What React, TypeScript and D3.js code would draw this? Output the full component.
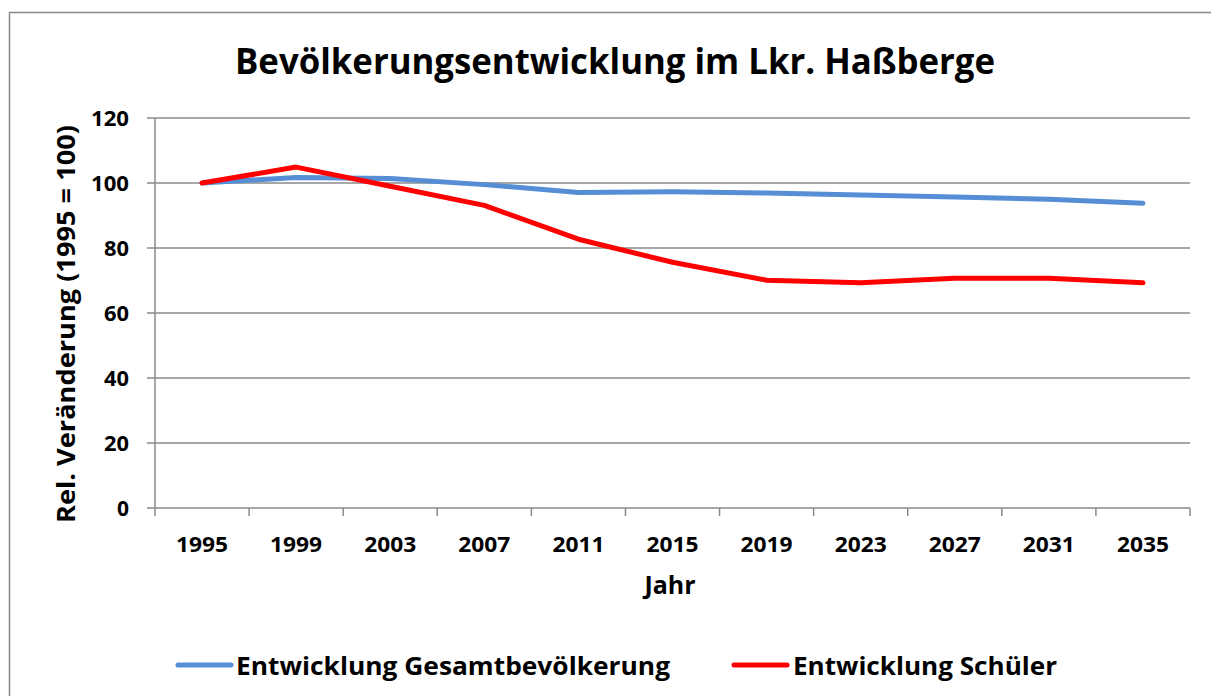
import React from "react";
import * as d3 from "d3";

const years = ["1995", "1999", "2003", "2007", "2011", "2015", "2019", "2023", "2027", "2031", "2035"];
const gesamt = [100, 101.7, 101.4, 99.5, 97.1, 97.3, 96.9, 96.3, 95.7, 95.0, 93.8];
const schueler = [100, 104.9, 99.0, 93.1, 82.7, 75.6, 70.1, 69.3, 70.7, 70.7, 69.3];
const yTicks = [0, 20, 40, 60, 80, 100, 120];

const seriesNames = ["Entwicklung Gesamtbevölkerung", "Entwicklung Schüler"];
const colors = ["#558ED5", "#FF0000"];

const FONT = "'Open Sans', 'DejaVu Sans', sans-serif";

export default function App() {
  const W = 1211, H = 696;
  const left = 155, right = 1190, top = 118, bottom = 508;
  const x = d3.scaleBand<string>().domain(years).range([left, right]).paddingInner(0).paddingOuter(0);
  const y = d3.scaleLinear().domain([0, 120]).range([bottom, top]);
  const cx = (yr: string) => (x(yr) as number) + x.bandwidth() / 2;
  const line = d3.line<number>().x((_, i) => cx(years[i])).y((v) => y(v));
  const boundaries = d3.range(years.length + 1).map((i) => left + i * x.bandwidth());

  return (
    <svg width={W} height={H} style={{ position: "absolute", left: 0, top: 0, background: "#fff" }}>
      <rect x={9.5} y={12.5} width={1300} height={800} fill="#fff" stroke="#898989" strokeWidth={1.5} />
      <text x={615} y={74} textAnchor="middle" fontFamily={FONT} fontWeight="bold" fontSize={35}
        textLength={760} lengthAdjust="spacingAndGlyphs">Bevölkerungsentwicklung im Lkr. Haßberge</text>
      {yTicks.map((t) => (
        <g key={t}>
          <line x1={147} x2={right} y1={y(t)} y2={y(t)} stroke="#8a8a8a" strokeWidth={1.5} />
          <text x={129} y={y(t) + 7.5} textAnchor="end" fontFamily={FONT} fontWeight="bold" fontSize={21}
            textLength={t === 0 ? undefined : t >= 100 ? 38 : 25} lengthAdjust="spacingAndGlyphs">{t}</text>
        </g>
      ))}
      <line x1={left} x2={left} y1={top} y2={bottom} stroke="#8a8a8a" strokeWidth={1.5} />
      {boundaries.map((bx, i) => (
        <line key={i} x1={bx} x2={bx} y1={bottom} y2={516} stroke="#8a8a8a" strokeWidth={1.5} />
      ))}
      {years.map((yr) => (
        <text key={yr} x={cx(yr)} y={552} textAnchor="middle" fontFamily={FONT} fontWeight="bold" fontSize={22}
          textLength={52} lengthAdjust="spacingAndGlyphs">{yr}</text>
      ))}
      <text x={670} y={594} textAnchor="middle" fontFamily={FONT} fontWeight="bold" fontSize={25}>Jahr</text>
      <text transform="translate(75,324) rotate(-90)" textAnchor="middle" fontFamily={FONT} fontWeight="bold" fontSize={25}
        textLength={398} lengthAdjust="spacingAndGlyphs">Rel. Veränderung (1995 = 100)</text>
      <path d={line(gesamt) || ""} fill="none" stroke={colors[0]} strokeWidth={5} strokeLinecap="round" strokeLinejoin="round" />
      <path d={line(schueler) || ""} fill="none" stroke={colors[1]} strokeWidth={5} strokeLinecap="round" strokeLinejoin="round" />
      <line x1={178} x2={231} y1={665} y2={665} stroke={colors[0]} strokeWidth={5} strokeLinecap="round" />
      <text x={236} y={675} fontFamily={FONT} fontWeight="bold" fontSize={25} textLength={434} lengthAdjust="spacingAndGlyphs">{seriesNames[0]}</text>
      <line x1={734} x2={787} y1={665} y2={665} stroke={colors[1]} strokeWidth={5} strokeLinecap="round" />
      <text x={793} y={675} fontFamily={FONT} fontWeight="bold" fontSize={25} textLength={264} lengthAdjust="spacingAndGlyphs">{seriesNames[1]}</text>
    </svg>
  );
}
